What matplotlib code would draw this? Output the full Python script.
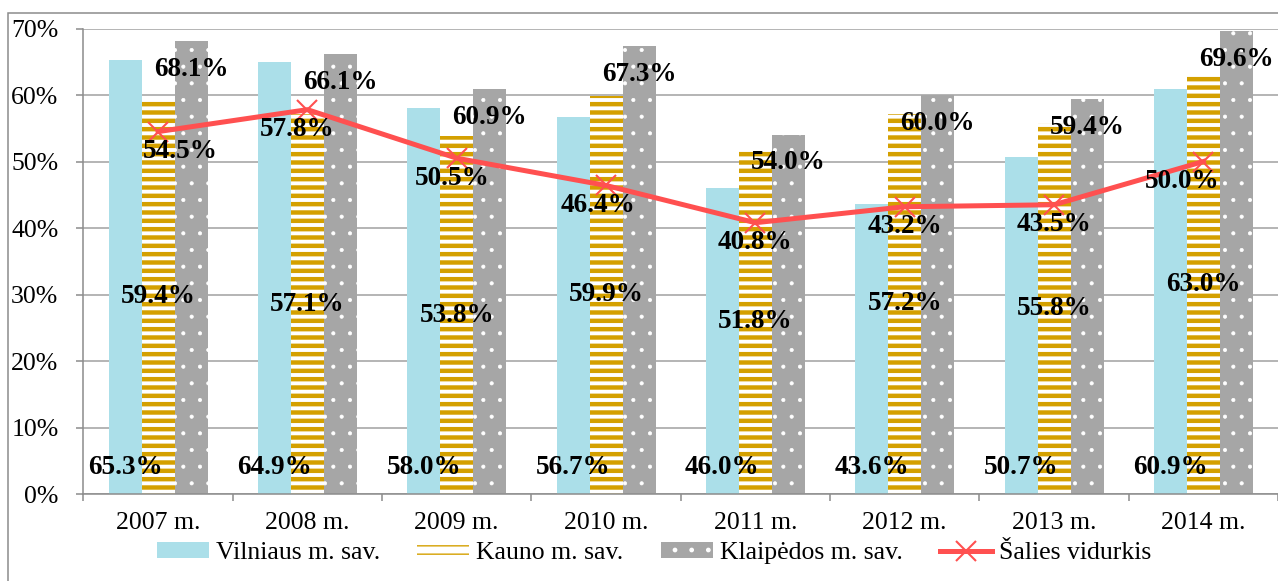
import numpy as np
import matplotlib
matplotlib.use("Agg")
import matplotlib.pyplot as plt
from matplotlib.lines import Line2D
from matplotlib.patches import Rectangle
from matplotlib.ticker import PercentFormatter

# duomenys (procentais)
years = ["2007 m.", "2008 m.", "2009 m.", "2010 m.", "2011 m.", "2012 m.", "2013 m.", "2014 m."]
vilnius = [65.3, 64.9, 58.0, 56.7, 46.0, 43.6, 50.7, 60.9]
kaunas = [59.4, 57.1, 53.8, 59.9, 51.8, 57.2, 55.8, 63.0]
klaipeda = [68.1, 66.1, 60.9, 67.3, 54.0, 60.0, 59.4, 69.6]
salies = [54.5, 57.8, 50.5, 46.4, 40.8, 43.2, 43.5, 50.0]
series_names = ["Vilniaus m. sav.", "Kauno m. sav.", "Klaipėdos m. sav.", "Šalies vidurkis"]

# šalies vidurkio etikečių poslinkis į šonus (px)
line_label_dx = [22, -10, -5, -8, 0, 0, 0, -21]

plt.rcParams["font.family"] = ["Liberation Serif", "DejaVu Serif"]

cyan = "#abdfe9"
gold = "#d4a000"
grey = "#a6a6a6"
red = "#ff5050"
axis_grey = "#8c8c8c"

fig = plt.figure(figsize=(12.78, 5.81), dpi=100)
ax = fig.add_axes([0.0653, 0.1497, 0.9347, 0.8012])

x = np.arange(len(years))
w = 0.221


def hatched_bars(xs, vals, lw_hatch, **kw):
    with plt.rc_context({"hatch.linewidth": lw_hatch}):
        bars = ax.bar(xs, vals, w, linewidth=0, **kw)
    for b in bars:
        if hasattr(b, "set_hatch_linewidth"):
            b.set_hatch_linewidth(lw_hatch)
    return bars


ax.bar(x - w, vilnius, w, color=cyan, linewidth=0, zorder=2)
hatched_bars(x, kaunas, 3.2, facecolor="white", edgecolor=gold, hatch="--", zorder=2)
hatched_bars(x + w, klaipeda, 0.5, facecolor=grey, edgecolor="white", hatch=".", zorder=2)

ax.plot(x, salies, color=red, lw=3.6, marker="x", markersize=14,
        markeredgewidth=1.5, zorder=3)

lbl = dict(fontsize=19.5, fontweight="bold", ha="center", va="center",
           textcoords="offset pixels", zorder=5)
for i in range(len(years)):
    ax.annotate(f"{vilnius[i]:.1f}%", (x[i] - w, 0), xytext=(0, 27), **lbl)
    ax.annotate(f"{kaunas[i]:.1f}%", (x[i], kaunas[i] / 2), xytext=(0, 0), **lbl)
    ax.annotate(f"{klaipeda[i]:.1f}%", (x[i] + w, klaipeda[i]), xytext=(0, -28), **lbl)
    ax.annotate(f"{salies[i]:.1f}%", (x[i], salies[i]),
                xytext=(line_label_dx[i], -20), **lbl)

ax.set_xlim(-0.5, len(years) - 0.5)
ax.set_ylim(0, 70)
ax.set_yticks(np.arange(0, 71, 10))
ax.yaxis.set_major_formatter(PercentFormatter(decimals=0))
ax.set_xticks(x)
ax.set_xticklabels(years)
ax.set_xticks(np.arange(-0.5, len(years), 1), minor=True)
ax.tick_params(axis="x", which="major", length=0, pad=13, labelsize=18.5)
ax.tick_params(axis="x", which="minor", length=5, width=1.1, color=axis_grey,
               direction="out")
ax.tick_params(axis="y", length=5, width=1.1, color=axis_grey, pad=13,
               labelsize=18.5, direction="out")

ax.grid(axis="y", color="#a0a0a0", lw=1.1, zorder=0)
ax.set_axisbelow(True)
for s in ("top", "right"):
    ax.spines[s].set_visible(False)
for s in ("left", "bottom"):
    ax.spines[s].set_color(axis_grey)
    ax.spines[s].set_linewidth(1.1)

# legenda
with plt.rc_context({"hatch.linewidth": 3.2}):
    h_kaunas = Rectangle((0, 0), 1, 1, facecolor="white", edgecolor=gold,
                         hatch="--", linewidth=0)
with plt.rc_context({"hatch.linewidth": 0.5}):
    h_klaip = Rectangle((0, 0), 1, 1, facecolor=grey, edgecolor="white",
                        hatch=".", linewidth=0)
handles = [
    Rectangle((0, 0), 1, 1, facecolor=cyan, linewidth=0),
    h_kaunas,
    h_klaip,
    Line2D([], [], color=red, lw=3.6, marker="x", markersize=14, markeredgewidth=1.5),
]
fig.legend(handles, series_names, loc="center", bbox_to_anchor=(654 / 1278, 1 - 553 / 581),
           ncol=4, frameon=False, fontsize=18.5, handlelength=2.02, handleheight=0.55,
           handletextpad=0.27, columnspacing=1.45, borderaxespad=0, borderpad=0)

# rėmelis aplink diagramą
fig.patches.append(Rectangle((8 / 1278, -0.1), 1.2, 0.1 + (581 - 12.7) / 581,
                             transform=fig.transFigure, fill=False,
                             edgecolor=axis_grey, lw=1.1))

fig.savefig("out.png", dpi=100)
